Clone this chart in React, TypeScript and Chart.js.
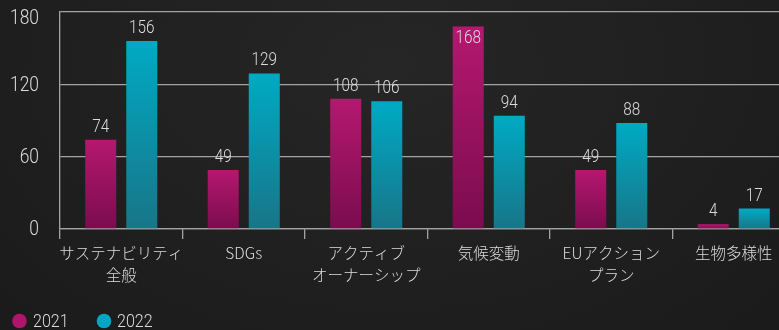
import React, { useEffect, useRef } from "react";
import { Chart, registerables } from "chart.js";

Chart.register(...registerables);

const categories: (string | string[])[] = [
  ["サステナビリティ", "全般"],
  "SDGs",
  ["アクティブ", "オーナーシップ"],
  "気候変動",
  ["EUアクション", "プラン"],
  "生物多様性",
];
const series2021 = [74, 49, 108, 168, 49, 4];
const series2022 = [156, 129, 106, 94, 88, 17];
const seriesLabels = ["2021", "2022"];
const yTicks = [0, 60, 120, 180];

const NUM_FONT = "Roboto";
const JP_FONT = "'Noto Sans CJK JP', 'Noto Sans', sans-serif";
const TEXT = "#dcdcdc";
const GRID = "#a3a3a3";

const palettes = [
  { top: "#b5186f", bottom: "#7a0c4e", solid: "#b0146c" },
  { top: "#00aac4", bottom: "#187588", solid: "#00a6c2" },
];

function gradientFor(idx: number) {
  return (c: any) => {
    const chart = c.chart;
    const ys = chart.scales?.y;
    const p = palettes[idx];
    if (c.type !== "data" || !ys || !chart.chartArea) return p.top;
    const t = ys.getPixelForValue(c.raw);
    const b = ys.getPixelForValue(0);
    if (!isFinite(t) || !isFinite(b) || t === b) return p.top;
    const g = chart.ctx.createLinearGradient(0, t, 0, b);
    g.addColorStop(0, p.top);
    g.addColorStop(1, p.bottom);
    return g;
  };
}

function drawNarrow(
  ctx: CanvasRenderingContext2D,
  text: string,
  x: number,
  y: number,
  size: number,
  sx: number,
  align: CanvasTextAlign,
  baseline: CanvasTextBaseline
) {
  ctx.save();
  ctx.translate(x, y);
  ctx.scale(sx, 1);
  ctx.font = `300 ${size}px ${NUM_FONT}`;
  ctx.fillStyle = TEXT;
  ctx.textAlign = align;
  ctx.textBaseline = baseline;
  ctx.fillText(text, 0, 0);
  ctx.restore();
}

const labelPlugin = {
  id: "valueLabels",
  afterDatasetsDraw(chart: any) {
    const ctx = chart.ctx;
    chart.data.datasets.forEach((ds: any, di: number) => {
      const meta = chart.getDatasetMeta(di);
      meta.data.forEach((bar: any, i: number) => {
        const v = ds.data[i];
        let y = bar.y - 8;
        if (y - 14 < chart.chartArea.top) y = bar.y + 17;
        drawNarrow(ctx, String(v), bar.x, y, 18.7, 0.82, "center", "alphabetic");
      });
    });
  },
};

const yLabelPlugin = {
  id: "yLabels",
  afterDraw(chart: any) {
    const ctx = chart.ctx;
    const ys = chart.scales.y;
    const top = chart.chartArea.top;
    yTicks.forEach((v) => {
      const py = ys.getPixelForValue(v);
      const cy = Math.max(py + 1, top + 7);
      drawNarrow(ctx, String(v), 39, cy, 21, 0.83, "right", "middle");
    });
  },
};

const legendPlugin = {
  id: "customLegend",
  afterDraw(chart: any) {
    const ctx = chart.ctx;
    const cy = 321;
    const items = [
      { x: 19.5, tx: 33 },
      { x: 104, tx: 117 },
    ];
    items.forEach((it, i) => {
      ctx.save();
      ctx.beginPath();
      ctx.arc(it.x, cy, 7.3, 0, Math.PI * 2);
      ctx.fillStyle = palettes[i].solid;
      ctx.fill();
      ctx.restore();
      drawNarrow(ctx, seriesLabels[i], it.tx, cy + 1, 18.7, 0.86, "left", "middle");
    });
  },
};

export default function App() {
  const ref = useRef<HTMLCanvasElement>(null);
  useEffect(() => {
    if (!ref.current) return;
    const chart = new Chart(ref.current, {
      type: "bar",
      data: {
        labels: categories,
        datasets: [
          {
            label: seriesLabels[0],
            data: series2021,
            backgroundColor: gradientFor(0),
            categoryPercentage: 0.67,
            barPercentage: 0.756,
          },
          {
            label: seriesLabels[1],
            data: series2022,
            backgroundColor: gradientFor(1),
            categoryPercentage: 0.67,
            barPercentage: 0.756,
          },
        ],
      },
      options: {
        animation: false,
        responsive: false,
        maintainAspectRatio: false,
        layout: { padding: { top: 12, left: 0, right: 0, bottom: 0 } },
        plugins: {
          legend: { display: false },
          tooltip: { enabled: false },
        },
        scales: {
          x: {
            grid: {
              display: true,
              drawOnChartArea: false,
              drawTicks: true,
              tickLength: 10,
              color: GRID,
              lineWidth: 1.3,
            },
            border: { display: true, color: GRID, width: 1.3 },
            ticks: {
              color: TEXT,
              font: { family: JP_FONT, size: 15.5, weight: 300, lineHeight: 1.42 },
              padding: 3,
              maxRotation: 0,
              autoSkip: false,
            },
            afterFit(scale: any) {
              scale.height = 101;
              scale.paddingLeft = 0;
              scale.paddingRight = 0;
            },
          },
          y: {
            min: 0,
            max: 180,
            afterBuildTicks(scale: any) {
              scale.ticks = yTicks.map((v) => ({ value: v }));
            },
            grid: {
              color: GRID,
              lineWidth: 1.3,
              drawTicks: false,
            },
            border: { display: true, color: GRID, width: 1.3 },
            ticks: {
              display: false,
            },
            afterFit(scale: any) {
              scale.width = 60;
              scale.paddingTop = 0;
              scale.paddingBottom = 0;
            },
          },
        },
      },
      plugins: [labelPlugin, yLabelPlugin, legendPlugin],
    });
    return () => chart.destroy();
  }, []);

  return (
    <div
      style={{
        position: "fixed",
        left: 0,
        top: 0,
        width: "100vw",
        height: "100vh",
        overflow: "hidden",
        background: "radial-gradient(ellipse at 50% 20%, #262626 0%, #1f1f1f 60%, #1b1b1b 100%)",
      }}
    >
      <canvas ref={ref} width={795} height={330} style={{ display: "block", width: 795, height: 330 }} />
    </div>
  );
}
